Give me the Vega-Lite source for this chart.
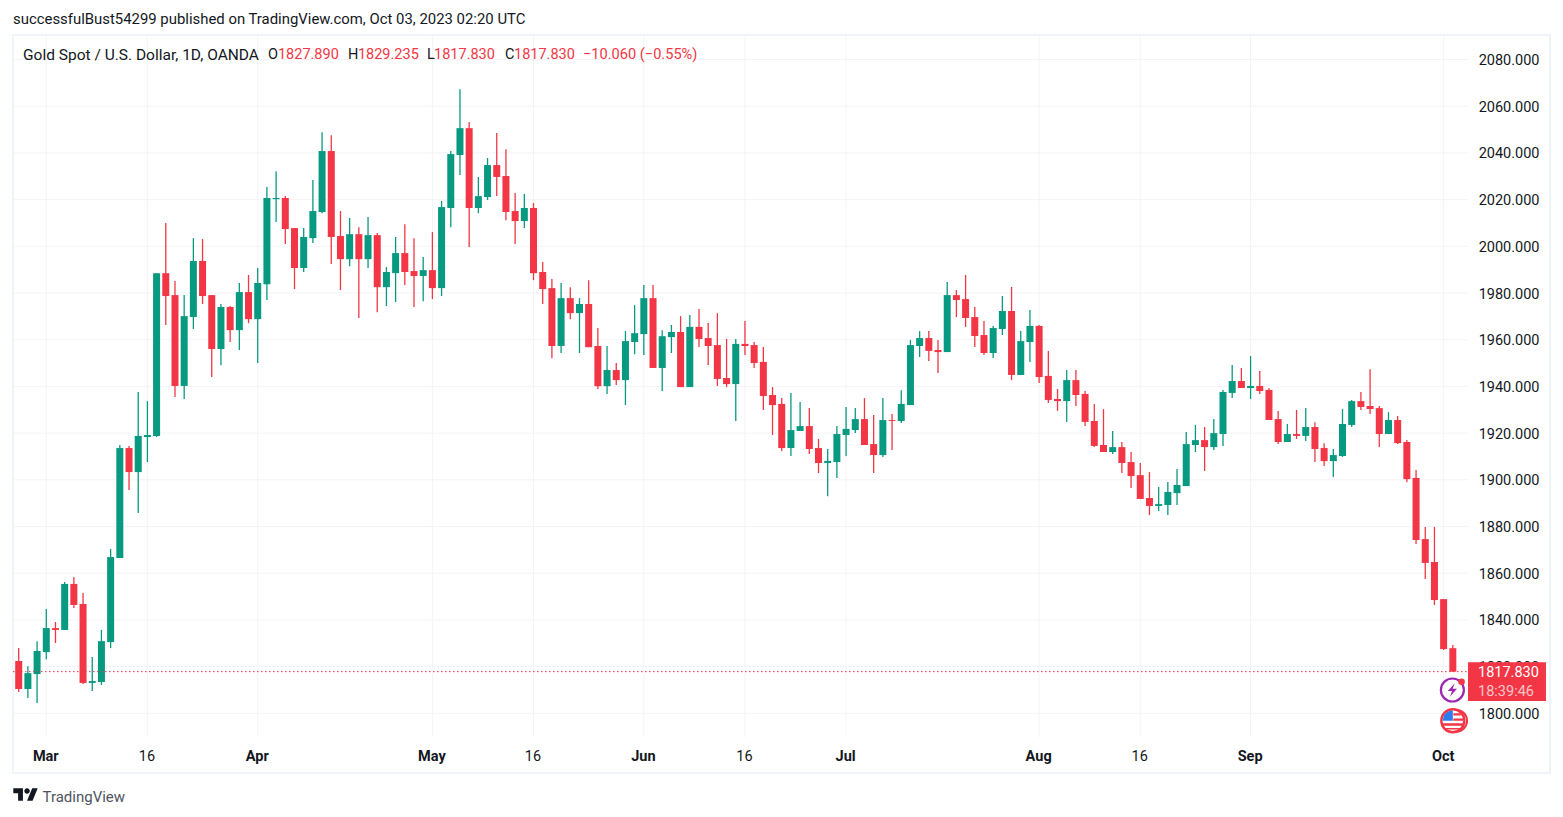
{"$schema":"https://vega.github.io/schema/vega-lite/v6.json","width":1537,"height":738,"padding":{"left":13,"top":35,"right":13,"bottom":44},"autosize":{"type":"none"},"background":"#ffffff",
"view":{"stroke":"#f0f3fa","strokeWidth":2,"fill":"#ffffff"},
"config":{"font":"Roboto","axis":{"grid":false,"domain":false,"ticks":false}},
"title":{"text":"successfulBust54299 published on TradingView.com, Oct 03, 2023 02:20 UTC","anchor":"start","frame":"group","offset":8,"font":"Roboto","fontSize":14.9,"fontWeight":"normal","color":"#131722"},
"datasets":{"candles":[
{"i":0,"date":"2023-02-24","open":1822.4,"high":1828.0,"low":1809.1,"close":1810.4},
{"i":1,"date":"2023-02-27","open":1810.4,"high":1820.2,"low":1806.5,"close":1817.2},
{"i":2,"date":"2023-02-28","open":1816.8,"high":1830.9,"low":1804.4,"close":1826.7},
{"i":3,"date":"2023-03-01","open":1826.2,"high":1844.7,"low":1823.2,"close":1836.5},
{"i":4,"date":"2023-03-02","open":1836.5,"high":1839.1,"low":1830.1,"close":1835.7},
{"i":5,"date":"2023-03-03","open":1835.7,"high":1856.2,"low":1835.7,"close":1855.4},
{"i":6,"date":"2023-03-06","open":1855.4,"high":1858.4,"low":1845.1,"close":1846.4},
{"i":7,"date":"2023-03-07","open":1846.8,"high":1851.5,"low":1812.5,"close":1813.0},
{"i":8,"date":"2023-03-08","open":1813.0,"high":1824.1,"low":1809.5,"close":1813.8},
{"i":9,"date":"2023-03-09","open":1813.4,"high":1835.7,"low":1812.1,"close":1830.9},
{"i":10,"date":"2023-03-10","open":1830.5,"high":1870.4,"low":1827.9,"close":1866.9},
{"i":11,"date":"2023-03-13","open":1866.5,"high":1914.9,"low":1866.5,"close":1913.6},
{"i":12,"date":"2023-03-14","open":1913.6,"high":1914.5,"low":1895.6,"close":1903.3},
{"i":13,"date":"2023-03-15","open":1903.3,"high":1937.6,"low":1885.8,"close":1918.8},
{"i":14,"date":"2023-03-16","open":1918.3,"high":1933.7,"low":1907.6,"close":1919.2},
{"i":15,"date":"2023-03-17","open":1918.8,"high":1988.5,"low":1918.3,"close":1988.5},
{"i":16,"date":"2023-03-20","open":1988.5,"high":2010.0,"low":1966.3,"close":1978.7},
{"i":17,"date":"2023-03-21","open":1979.1,"high":1985.1,"low":1935.5,"close":1940.2},
{"i":18,"date":"2023-03-22","open":1940.2,"high":1979.1,"low":1934.6,"close":1970.1},
{"i":19,"date":"2023-03-23","open":1969.7,"high":2003.5,"low":1964.6,"close":1993.7},
{"i":20,"date":"2023-03-24","open":1993.7,"high":2003.1,"low":1975.3,"close":1978.7},
{"i":21,"date":"2023-03-27","open":1979.1,"high":1979.1,"low":1944.0,"close":1956.0},
{"i":22,"date":"2023-03-28","open":1956.0,"high":1975.3,"low":1949.1,"close":1974.0},
{"i":23,"date":"2023-03-29","open":1974.0,"high":1974.4,"low":1959.0,"close":1964.1},
{"i":24,"date":"2023-03-30","open":1964.1,"high":1984.3,"low":1955.6,"close":1980.4},
{"i":25,"date":"2023-03-31","open":1980.4,"high":1987.7,"low":1967.1,"close":1968.8},
{"i":26,"date":"2023-04-03","open":1968.8,"high":1990.7,"low":1950.0,"close":1984.3},
{"i":27,"date":"2023-04-04","open":1983.8,"high":2025.4,"low":1977.0,"close":2020.7},
{"i":28,"date":"2023-04-05","open":2020.2,"high":2032.2,"low":2010.4,"close":2020.7},
{"i":29,"date":"2023-04-06","open":2020.7,"high":2021.5,"low":2001.0,"close":2007.4},
{"i":30,"date":"2023-04-10","open":2007.8,"high":2007.8,"low":1981.7,"close":1990.7},
{"i":31,"date":"2023-04-11","open":1990.7,"high":2007.8,"low":1989.0,"close":2004.0},
{"i":32,"date":"2023-04-12","open":2003.5,"high":2028.4,"low":2001.4,"close":2015.1},
{"i":33,"date":"2023-04-13","open":2014.7,"high":2048.9,"low":2014.2,"close":2040.8},
{"i":34,"date":"2023-04-14","open":2040.8,"high":2047.6,"low":1992.4,"close":2004.0},
{"i":35,"date":"2023-04-17","open":2004.4,"high":2015.1,"low":1981.3,"close":1994.5},
{"i":36,"date":"2023-04-18","open":1994.5,"high":2012.1,"low":1991.5,"close":2005.2},
{"i":37,"date":"2023-04-19","open":2005.2,"high":2008.2,"low":1969.3,"close":1994.5},
{"i":38,"date":"2023-04-20","open":1994.5,"high":2012.5,"low":1990.7,"close":2004.8},
{"i":39,"date":"2023-04-21","open":2004.8,"high":2005.7,"low":1971.8,"close":1982.5},
{"i":40,"date":"2023-04-24","open":1982.5,"high":1991.1,"low":1974.4,"close":1989.0},
{"i":41,"date":"2023-04-25","open":1988.5,"high":2004.0,"low":1976.1,"close":1997.1},
{"i":42,"date":"2023-04-26","open":1997.1,"high":2009.5,"low":1983.4,"close":1989.0},
{"i":43,"date":"2023-04-27","open":1989.4,"high":2003.5,"low":1974.0,"close":1987.3},
{"i":44,"date":"2023-04-28","open":1987.3,"high":1995.4,"low":1976.5,"close":1989.8},
{"i":45,"date":"2023-05-01","open":1989.8,"high":2006.1,"low":1977.4,"close":1982.1},
{"i":46,"date":"2023-05-02","open":1982.1,"high":2019.4,"low":1978.7,"close":2016.8},
{"i":47,"date":"2023-05-03","open":2016.4,"high":2040.8,"low":2008.2,"close":2039.5},
{"i":48,"date":"2023-05-04","open":2039.1,"high":2067.3,"low":2030.5,"close":2050.6},
{"i":49,"date":"2023-05-05","open":2050.6,"high":2053.2,"low":1999.7,"close":2016.4},
{"i":50,"date":"2023-05-08","open":2016.4,"high":2029.7,"low":2014.2,"close":2021.5},
{"i":51,"date":"2023-05-09","open":2021.1,"high":2037.8,"low":2019.8,"close":2034.8},
{"i":52,"date":"2023-05-10","open":2034.8,"high":2048.5,"low":2021.5,"close":2029.7},
{"i":53,"date":"2023-05-11","open":2030.1,"high":2041.6,"low":2011.2,"close":2014.7},
{"i":54,"date":"2023-05-12","open":2015.1,"high":2022.8,"low":2001.0,"close":2010.8},
{"i":55,"date":"2023-05-15","open":2010.8,"high":2022.4,"low":2007.8,"close":2016.4},
{"i":56,"date":"2023-05-16","open":2016.4,"high":2018.5,"low":1985.5,"close":1988.5},
{"i":57,"date":"2023-05-17","open":1989.0,"high":1993.3,"low":1975.3,"close":1981.7},
{"i":58,"date":"2023-05-18","open":1982.1,"high":1986.0,"low":1952.1,"close":1957.3},
{"i":59,"date":"2023-05-19","open":1957.3,"high":1984.3,"low":1954.3,"close":1977.8},
{"i":60,"date":"2023-05-22","open":1977.8,"high":1982.5,"low":1968.8,"close":1971.4},
{"i":61,"date":"2023-05-23","open":1971.4,"high":1977.8,"low":1954.3,"close":1975.3},
{"i":62,"date":"2023-05-24","open":1975.3,"high":1985.5,"low":1956.8,"close":1956.8},
{"i":63,"date":"2023-05-25","open":1957.3,"high":1965.0,"low":1938.9,"close":1940.1},
{"i":64,"date":"2023-05-26","open":1940.1,"high":1957.3,"low":1936.7,"close":1947.0},
{"i":65,"date":"2023-05-29","open":1947.0,"high":1950.0,"low":1940.6,"close":1942.7},
{"i":66,"date":"2023-05-30","open":1942.7,"high":1963.7,"low":1932.0,"close":1959.4},
{"i":67,"date":"2023-05-31","open":1959.0,"high":1974.8,"low":1953.8,"close":1962.8},
{"i":68,"date":"2023-06-01","open":1962.4,"high":1983.4,"low":1953.4,"close":1977.8},
{"i":69,"date":"2023-06-02","open":1977.8,"high":1983.4,"low":1947.9,"close":1947.9},
{"i":70,"date":"2023-06-05","open":1947.9,"high":1964.1,"low":1938.0,"close":1961.5},
{"i":71,"date":"2023-06-06","open":1961.1,"high":1966.3,"low":1954.3,"close":1963.3},
{"i":72,"date":"2023-06-07","open":1963.3,"high":1970.1,"low":1939.7,"close":1939.7},
{"i":73,"date":"2023-06-08","open":1939.7,"high":1970.6,"low":1939.7,"close":1965.5},
{"i":74,"date":"2023-06-09","open":1965.5,"high":1973.1,"low":1956.9,"close":1960.3},
{"i":75,"date":"2023-06-12","open":1960.7,"high":1967.2,"low":1949.2,"close":1957.3},
{"i":76,"date":"2023-06-13","open":1957.7,"high":1971.4,"low":1940.2,"close":1943.2},
{"i":77,"date":"2023-06-14","open":1943.6,"high":1960.3,"low":1939.7,"close":1941.0},
{"i":78,"date":"2023-06-15","open":1941.0,"high":1960.3,"low":1925.2,"close":1958.2},
{"i":79,"date":"2023-06-16","open":1958.2,"high":1968.0,"low":1953.4,"close":1957.3},
{"i":80,"date":"2023-06-19","open":1957.7,"high":1959.0,"low":1947.9,"close":1950.0},
{"i":81,"date":"2023-06-20","open":1950.5,"high":1956.9,"low":1929.9,"close":1935.9},
{"i":82,"date":"2023-06-21","open":1936.3,"high":1939.7,"low":1919.2,"close":1932.0},
{"i":83,"date":"2023-06-22","open":1932.5,"high":1935.0,"low":1912.3,"close":1913.6},
{"i":84,"date":"2023-06-23","open":1913.6,"high":1937.2,"low":1910.2,"close":1921.3},
{"i":85,"date":"2023-06-26","open":1920.9,"high":1933.3,"low":1920.9,"close":1923.0},
{"i":86,"date":"2023-06-27","open":1923.0,"high":1930.7,"low":1911.0,"close":1913.2},
{"i":87,"date":"2023-06-28","open":1913.6,"high":1917.5,"low":1902.9,"close":1907.2},
{"i":88,"date":"2023-06-29","open":1907.2,"high":1913.2,"low":1893.0,"close":1908.1},
{"i":89,"date":"2023-06-30","open":1907.6,"high":1923.0,"low":1900.8,"close":1919.6},
{"i":90,"date":"2023-07-03","open":1919.2,"high":1931.2,"low":1910.2,"close":1921.8},
{"i":91,"date":"2023-07-04","open":1921.3,"high":1930.7,"low":1920.0,"close":1926.0},
{"i":92,"date":"2023-07-05","open":1926.0,"high":1935.0,"low":1914.9,"close":1914.9},
{"i":93,"date":"2023-07-06","open":1915.3,"high":1927.8,"low":1902.9,"close":1910.6},
{"i":94,"date":"2023-07-07","open":1910.6,"high":1935.0,"low":1909.8,"close":1925.6},
{"i":95,"date":"2023-07-10","open":1925.6,"high":1928.2,"low":1912.8,"close":1925.2},
{"i":96,"date":"2023-07-11","open":1925.2,"high":1938.4,"low":1924.3,"close":1932.5},
{"i":97,"date":"2023-07-12","open":1932.0,"high":1959.9,"low":1932.0,"close":1957.7},
{"i":98,"date":"2023-07-13","open":1957.3,"high":1963.7,"low":1952.6,"close":1960.7},
{"i":99,"date":"2023-07-14","open":1960.7,"high":1963.7,"low":1950.9,"close":1955.2},
{"i":100,"date":"2023-07-17","open":1955.6,"high":1959.9,"low":1945.7,"close":1954.7},
{"i":101,"date":"2023-07-18","open":1954.7,"high":1984.7,"low":1954.7,"close":1979.1},
{"i":102,"date":"2023-07-19","open":1979.1,"high":1981.3,"low":1969.7,"close":1977.0},
{"i":103,"date":"2023-07-20","open":1977.4,"high":1987.7,"low":1965.5,"close":1969.3},
{"i":104,"date":"2023-07-21","open":1969.7,"high":1974.0,"low":1956.9,"close":1961.6},
{"i":105,"date":"2023-07-24","open":1962.0,"high":1968.0,"low":1953.4,"close":1954.3},
{"i":106,"date":"2023-07-25","open":1954.3,"high":1965.9,"low":1952.2,"close":1965.0},
{"i":107,"date":"2023-07-26","open":1964.6,"high":1978.7,"low":1962.0,"close":1972.3},
{"i":108,"date":"2023-07-27","open":1972.3,"high":1982.6,"low":1942.7,"close":1944.9},
{"i":109,"date":"2023-07-28","open":1944.9,"high":1963.7,"low":1944.9,"close":1959.4},
{"i":110,"date":"2023-07-31","open":1959.0,"high":1972.7,"low":1950.5,"close":1965.9},
{"i":111,"date":"2023-08-01","open":1965.9,"high":1966.3,"low":1941.5,"close":1944.0},
{"i":112,"date":"2023-08-02","open":1944.5,"high":1955.2,"low":1932.9,"close":1934.2},
{"i":113,"date":"2023-08-03","open":1934.6,"high":1938.9,"low":1929.5,"close":1933.7},
{"i":114,"date":"2023-08-04","open":1933.7,"high":1947.0,"low":1924.8,"close":1942.7},
{"i":115,"date":"2023-08-07","open":1942.7,"high":1947.0,"low":1931.6,"close":1936.3},
{"i":116,"date":"2023-08-08","open":1936.8,"high":1938.0,"low":1923.0,"close":1924.8},
{"i":117,"date":"2023-08-09","open":1925.2,"high":1932.5,"low":1914.1,"close":1914.5},
{"i":118,"date":"2023-08-10","open":1914.9,"high":1930.3,"low":1911.9,"close":1911.9},
{"i":119,"date":"2023-08-11","open":1911.9,"high":1920.9,"low":1911.0,"close":1914.0},
{"i":120,"date":"2023-08-14","open":1914.0,"high":1916.2,"low":1902.9,"close":1907.2},
{"i":121,"date":"2023-08-15","open":1907.6,"high":1911.9,"low":1896.5,"close":1901.6},
{"i":122,"date":"2023-08-16","open":1902.0,"high":1907.2,"low":1891.8,"close":1891.8},
{"i":123,"date":"2023-08-17","open":1892.2,"high":1903.3,"low":1884.9,"close":1888.8},
{"i":124,"date":"2023-08-18","open":1888.8,"high":1896.9,"low":1886.6,"close":1889.6},
{"i":125,"date":"2023-08-21","open":1889.2,"high":1899.1,"low":1884.9,"close":1894.8},
{"i":126,"date":"2023-08-22","open":1894.3,"high":1904.6,"low":1889.2,"close":1897.8},
{"i":127,"date":"2023-08-23","open":1897.3,"high":1920.5,"low":1897.3,"close":1915.3},
{"i":128,"date":"2023-08-24","open":1914.9,"high":1923.5,"low":1911.9,"close":1917.0},
{"i":129,"date":"2023-08-25","open":1917.0,"high":1922.6,"low":1903.8,"close":1914.0},
{"i":130,"date":"2023-08-28","open":1914.0,"high":1926.0,"low":1912.8,"close":1920.0},
{"i":131,"date":"2023-08-29","open":1919.6,"high":1938.5,"low":1914.5,"close":1937.6},
{"i":132,"date":"2023-08-30","open":1937.2,"high":1949.2,"low":1935.0,"close":1942.3},
{"i":133,"date":"2023-08-31","open":1942.3,"high":1947.9,"low":1939.3,"close":1939.3},
{"i":134,"date":"2023-09-01","open":1939.3,"high":1953.0,"low":1934.6,"close":1940.2},
{"i":135,"date":"2023-09-04","open":1940.2,"high":1946.6,"low":1936.7,"close":1938.0},
{"i":136,"date":"2023-09-05","open":1938.5,"high":1939.3,"low":1925.6,"close":1925.6},
{"i":137,"date":"2023-09-06","open":1926.0,"high":1929.5,"low":1915.3,"close":1916.2},
{"i":138,"date":"2023-09-07","open":1916.2,"high":1923.9,"low":1916.2,"close":1919.6},
{"i":139,"date":"2023-09-08","open":1919.6,"high":1929.9,"low":1917.5,"close":1918.8},
{"i":140,"date":"2023-09-11","open":1918.8,"high":1930.7,"low":1916.6,"close":1922.6},
{"i":141,"date":"2023-09-12","open":1922.6,"high":1924.7,"low":1907.6,"close":1913.2},
{"i":142,"date":"2023-09-13","open":1913.6,"high":1915.7,"low":1905.9,"close":1908.0},
{"i":143,"date":"2023-09-14","open":1908.0,"high":1913.2,"low":1901.2,"close":1910.6},
{"i":144,"date":"2023-09-15","open":1910.2,"high":1930.3,"low":1909.8,"close":1923.9},
{"i":145,"date":"2023-09-18","open":1923.5,"high":1934.2,"low":1922.6,"close":1933.7},
{"i":146,"date":"2023-09-19","open":1933.7,"high":1937.6,"low":1929.9,"close":1931.2},
{"i":147,"date":"2023-09-20","open":1931.6,"high":1947.4,"low":1928.2,"close":1930.3},
{"i":148,"date":"2023-09-21","open":1930.7,"high":1931.6,"low":1914.0,"close":1919.6},
{"i":149,"date":"2023-09-22","open":1919.6,"high":1929.0,"low":1919.6,"close":1925.6},
{"i":150,"date":"2023-09-25","open":1925.6,"high":1927.3,"low":1915.3,"close":1915.7},
{"i":151,"date":"2023-09-26","open":1916.2,"high":1917.0,"low":1899.0,"close":1900.3},
{"i":152,"date":"2023-09-27","open":1900.8,"high":1904.2,"low":1872.5,"close":1874.2},
{"i":153,"date":"2023-09-28","open":1874.6,"high":1879.8,"low":1857.5,"close":1864.4},
{"i":154,"date":"2023-09-29","open":1864.8,"high":1879.8,"low":1846.4,"close":1848.5},
{"i":155,"date":"2023-10-02","open":1848.9,"high":1848.9,"low":1827.1,"close":1827.5},
{"i":156,"date":"2023-10-03","open":1827.89,"high":1829.235,"low":1817.83,"close":1817.83}
],
"prices":[{"price":1800},{"price":1820},{"price":1840},{"price":1860},{"price":1880},{"price":1900},{"price":1920},{"price":1940},{"price":1960},{"price":1980},{"price":2000},{"price":2020},{"price":2040},{"price":2060},{"price":2080}],
"ticks":[{"i":3},{"i":14},{"i":26},{"i":45},{"i":56},{"i":68},{"i":79},{"i":90},{"i":111},{"i":122},{"i":134},{"i":155}]},
"layer":[
{"data":{"name":"candles"},"mark":{"type":"rule","strokeWidth":0,"opacity":0},"encoding":{
"x":{"field":"i","type":"quantitative","title":"TradingView","scale":{"domain":[-0.62,166.57],"nice":false,"zero":false,"padding":0},"axis":{"values":[3,14,26,45,56,68,79,90,111,122,134,155],"labelExpr":"['Mar','16','Apr','May','16','Jun','16','Jul','Aug','16','Sep','Oct'][indexof([3,14,26,45,56,68,79,90,111,122,134,155],datum.value)]","labelPadding":-17,"labelOffset":-1,"labelBaseline":"middle","labelFontSize":14.5,"labelFont":"Roboto","labelColor":"#131722","labelFontWeight":{"condition":{"test":"indexof([14,56,79,122],datum.value)<0","value":"bold"},"value":"normal"},"labelOverlap":false,"labelBound":false,"labelFlush":false,"title":"TradingView","titleX":29,"titleY":23,"titleAlign":"left","titleBaseline":"middle","titleFontSize":15,"titleFontWeight":"normal","titleFont":"Roboto","titleColor":"#50535e"}},
"y":{"field":"low","type":"quantitative","title":null,"scale":{"domain":[1774.43,2090.5],"nice":false,"zero":false,"padding":0},"axis":{"values":[1800,1820,1840,1860,1880,1900,1920,1940,1960,1980,2000,2020,2040,2060,2080],"format":".3f","labelPadding":-1526,"labelOffset":1,"labelAlign":"right","labelBaseline":"middle","labelFontSize":14.5,"labelFont":"Roboto","labelColor":"#131722","labelOverlap":false,"labelBound":false,"title":null}}}},
{"data":{"name":"prices"},"mark":{"type":"rule","stroke":"#f3f4f7","strokeWidth":1},"encoding":{"y":{"field":"price","type":"quantitative"},"x":{"datum":-0.62,"type":"quantitative"},"x2":{"datum":157.65}}},
{"data":{"name":"ticks"},"mark":{"type":"rule","stroke":"#f3f4f7","strokeWidth":1},"encoding":{"x":{"field":"i","type":"quantitative"},"y":{"datum":2090.5,"type":"quantitative"},"y2":{"datum":1789.85}}},
{"data":{"name":"candles"},"mark":{"type":"rule","strokeWidth":1.3},"encoding":{
"x":{"field":"i","type":"quantitative"},
"y":{"field":"low","type":"quantitative"},
"y2":{"field":"high"},
"color":{"condition":{"test":"datum.close>=datum.open","value":"#089981"},"value":"#f23645"}}},
{"data":{"name":"candles"},"mark":{"type":"bar","size":7},"encoding":{
"x":{"field":"i","type":"quantitative"},"y":{"field":"open","type":"quantitative"},"y2":{"field":"close"},
"color":{"condition":{"test":"datum.close>=datum.open","value":"#089981"},"value":"#f23645"}}},
{"data":{"values":[{"last":1817.83}]},"mark":{"type":"rule","stroke":"#f23645","strokeWidth":1,"strokeDash":[1.5,2.5]},"encoding":{"y":{"field":"last","type":"quantitative"},"x":{"datum":-0.62,"type":"quantitative"},"x2":{"datum":157.65}}},
{"data":{"values":[{"a":1}]},"mark":{"type":"point","shape":"circle","size":529,"filled":false,"stroke":"#9c27b0","strokeWidth":2.2,"fill":"#ffffff","fillOpacity":1},"encoding":{"x":{"datum":155.95,"type":"quantitative"},"y":{"datum":1809.98,"type":"quantitative"}}},
{"data":{"values":[{"a":1}]},"mark":{"type":"point","shape":"M0.22 -0.62L-0.42 0.1H-0.02L-0.22 0.62L0.42 -0.12H0.02Z","size":484,"filled":true,"color":"#9c27b0","opacity":1},"encoding":{"x":{"datum":155.95,"type":"quantitative"},"y":{"datum":1809.98,"type":"quantitative"}}},
{"data":{"values":[{"a":1}]},"mark":{"type":"point","shape":"circle","size":44,"filled":true,"color":"#f23645","opacity":1},"encoding":{"x":{"datum":156.95,"type":"quantitative"},"y":{"datum":1813.5,"type":"quantitative"}}},
{"data":{"values":[{"a":1}]},"mark":{"type":"point","shape":"circle","size":484,"filled":false,"stroke":"#f23645","strokeWidth":2,"fill":"#ffffff","fillOpacity":1},"encoding":{"x":{"datum":156.35,"type":"quantitative"},"y":{"datum":1796.83,"type":"quantitative"}}},
{"data":{"values":[{"a":1}]},"mark":{"type":"point","shape":"circle","size":529,"filled":false,"stroke":"#f23645","strokeWidth":2.4,"fill":"#ffffff","fillOpacity":1},"encoding":{"x":{"datum":156,"type":"quantitative"},"y":{"datum":1796.83,"type":"quantitative"}}},
{"data":{"values":[{"a":1}]},"mark":{"type":"point","shape":"M-0.85 -0.5A1 1 0 0 1 0 -0.98V0H-0.98Z","size":441,"filled":true,"color":"#2e7bf0","opacity":1},"encoding":{"x":{"datum":156,"type":"quantitative"},"y":{"datum":1796.83,"type":"quantitative"}}},
{"data":{"values":[{"a":1}]},"mark":{"type":"point","shape":"M0.05 -0.72H0.75V-0.5H0.05ZM0.05 -0.22H0.97V0H0.05ZM-0.97 0.25H0.97V0.47H-0.97ZM-0.7 0.7H0.7V0.85H-0.7Z","size":441,"filled":true,"color":"#f23645","opacity":1},"encoding":{"x":{"datum":156,"type":"quantitative"},"y":{"datum":1796.83,"type":"quantitative"}}},
{"data":{"values":[{"a":1}]},"mark":{"type":"rect","color":"#f23645","opacity":1},"encoding":{"x":{"datum":157.65,"type":"quantitative"},"x2":{"datum":166.13},"y":{"datum":1821.84,"type":"quantitative"},"y2":{"datum":1805.27}}},
{"data":{"values":[{"a":1}]},"mark":{"type":"text","align":"left","baseline":"middle","fontSize":14.5,"font":"Roboto","color":"#ffffff"},"encoding":{"text":{"value":"1817.830"},"x":{"datum":158.74,"type":"quantitative"},"y":{"datum":1817.2,"type":"quantitative"}}},
{"data":{"values":[{"a":1}]},"mark":{"type":"text","align":"left","baseline":"middle","fontSize":14.5,"font":"Roboto","color":"#ffffff","opacity":0.7},"encoding":{"text":{"value":"18:39:46"},"x":{"datum":158.74,"type":"quantitative"},"y":{"datum":1809.2,"type":"quantitative"}}},
{"data":{"values":[{"a":1}]},"mark":{"type":"text","align":"left","baseline":"middle","fontSize":15.5,"font":"Roboto","color":"#131722"},"encoding":{"text":{"value":"Gold Spot / U.S. Dollar, 1D, OANDA"},"x":{"datum":0.47,"type":"quantitative"},"y":{"datum":2082.1,"type":"quantitative"}}},
{"data":{"values":[{"a":1}]},"mark":{"type":"text","align":"left","baseline":"middle","fontSize":14.5,"font":"Roboto","color":"#131722"},"encoding":{"text":{"value":"O"},"x":{"datum":27.12,"type":"quantitative"},"y":{"datum":2082.1,"type":"quantitative"}}},
{"data":{"values":[{"a":1}]},"mark":{"type":"text","align":"left","baseline":"middle","fontSize":14.5,"font":"Roboto","color":"#f23645"},"encoding":{"text":{"value":"1827.890"},"x":{"datum":28.2,"type":"quantitative"},"y":{"datum":2082.1,"type":"quantitative"}}},
{"data":{"values":[{"a":1}]},"mark":{"type":"text","align":"left","baseline":"middle","fontSize":14.5,"font":"Roboto","color":"#131722"},"encoding":{"text":{"value":"H"},"x":{"datum":35.82,"type":"quantitative"},"y":{"datum":2082.1,"type":"quantitative"}}},
{"data":{"values":[{"a":1}]},"mark":{"type":"text","align":"left","baseline":"middle","fontSize":14.5,"font":"Roboto","color":"#f23645"},"encoding":{"text":{"value":"1829.235"},"x":{"datum":36.9,"type":"quantitative"},"y":{"datum":2082.1,"type":"quantitative"}}},
{"data":{"values":[{"a":1}]},"mark":{"type":"text","align":"left","baseline":"middle","fontSize":14.5,"font":"Roboto","color":"#131722"},"encoding":{"text":{"value":"L"},"x":{"datum":44.41,"type":"quantitative"},"y":{"datum":2082.1,"type":"quantitative"}}},
{"data":{"values":[{"a":1}]},"mark":{"type":"text","align":"left","baseline":"middle","fontSize":14.5,"font":"Roboto","color":"#f23645"},"encoding":{"text":{"value":"1817.830"},"x":{"datum":45.18,"type":"quantitative"},"y":{"datum":2082.1,"type":"quantitative"}}},
{"data":{"values":[{"a":1}]},"mark":{"type":"text","align":"left","baseline":"middle","fontSize":14.5,"font":"Roboto","color":"#131722"},"encoding":{"text":{"value":"C"},"x":{"datum":52.9,"type":"quantitative"},"y":{"datum":2082.1,"type":"quantitative"}}},
{"data":{"values":[{"a":1}]},"mark":{"type":"text","align":"left","baseline":"middle","fontSize":14.5,"font":"Roboto","color":"#f23645"},"encoding":{"text":{"value":"1817.830"},"x":{"datum":53.88,"type":"quantitative"},"y":{"datum":2082.1,"type":"quantitative"}}},
{"data":{"values":[{"a":1}]},"mark":{"type":"text","align":"left","baseline":"middle","fontSize":14.6,"font":"Roboto","color":"#f23645"},"encoding":{"text":{"value":"−10.060 (−0.55%)"},"x":{"datum":61.38,"type":"quantitative"},"y":{"datum":2082.1,"type":"quantitative"}}},
{"data":{"values":[{"a":1}]},"mark":{"type":"point","shape":"M-0.211 0.507H-0.606V-0.113H-1V-0.507H-0.211ZM0.577 0.507H0.127L0.549 -0.507H1ZM-0.098 -0.282A0.225 0.225 0 1 0 0.352 -0.282A0.225 0.225 0 1 0 -0.098 -0.282Z","size":595,"filled":true,"color":"#131722","opacity":1,"strokeWidth":0},"encoding":{"x":{"datum":0.74,"type":"quantitative"},"y":{"datum":1765.2,"type":"quantitative"}}}
]}
